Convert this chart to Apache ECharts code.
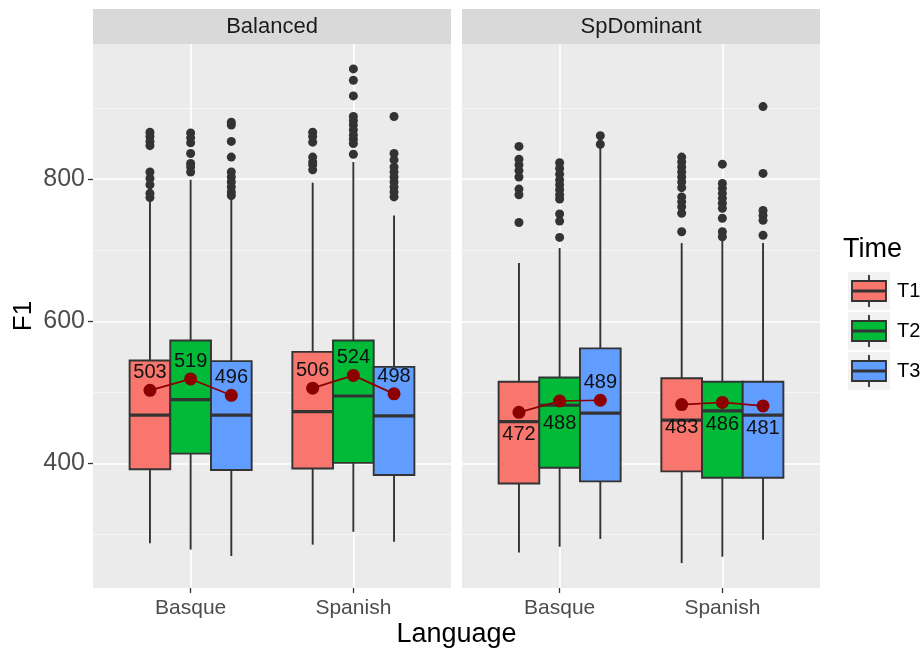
<!DOCTYPE html>
<html>
<head>
<meta charset="utf-8">
<title>F1 by Language, Time and Group</title>
<script src="https://cdn.jsdelivr.net/npm/echarts@6/dist/echarts.min.js"></script>
<style>
  html, body { margin: 0; padding: 0; background: #fff; }
  #chart { width: 924px; height: 653px; }
</style>
</head>
<body>
<div id="chart"></div>
<script>
// ---- data ----------------------------------------------------------
const panels = ['Balanced', 'SpDominant'];
const languages = ['Basque', 'Spanish'];
const times = ['T1', 'T2', 'T3'];
const yTicks = [400, 600, 800];
const yMinorTicks = [300, 500, 700, 900];

// five-number summaries per language: [lower whisker, Q1, median, Q3, upper whisker]
const balancedT1 = [[288, 392, 468, 545, 768], [286, 393, 473, 557, 795]];
const balancedT2 = [[279, 414, 490, 573, 799], [304, 401, 495, 573, 824]];
const balancedT3 = [[270, 391, 468, 544, 773], [290, 384, 467, 536, 749]];
const spDominantT1 = [[275, 372, 459, 515, 682], [260, 389, 461, 520, 710]];
const spDominantT2 = [[283, 394, 482, 521, 703], [269, 380, 474, 515, 714]];
const spDominantT3 = [[294, 375, 471, 562, 845], [293, 380, 468, 515, 710]];

// outliers per language
const balancedOutT1 = [[866, 860, 853, 847, 810, 801, 792, 780, 774], [866, 860, 852, 831, 824, 820, 813]];
const balancedOutT2 = [[865, 858, 851, 836, 822, 817, 810], [955, 939, 917, 888, 882, 876, 869, 862, 856, 850, 835]];
const balancedOutT3 = [[880, 876, 853, 831, 810, 803, 796, 789, 782, 777], [888, 836, 827, 817, 810, 803, 796, 789, 782, 775]];
const spDominantOutT1 = [[846, 828, 820, 812, 803, 786, 778, 739], [831, 824, 817, 810, 803, 796, 788, 775, 768, 761, 752, 726]];
const spDominantOutT2 = [[823, 815, 807, 799, 792, 785, 778, 772, 751, 741, 718], [821, 794, 787, 780, 773, 766, 759, 745, 726, 719]];
const spDominantOutT3 = [[861, 849], [902, 808, 756, 749, 742, 721]];

// means per time, by language
const balancedMeans = [[503, 506], [519, 524], [496, 498]];
const spDominantMeans = [[472, 483], [488, 486], [489, 481]];

// ---- styling -------------------------------------------------------
const FONT = '"Liberation Sans", Arial, Helvetica, sans-serif';
const timeColors = ['#F8766D', '#00BA38', '#619CFF'];
const inkColor = '#333333';
const meanColor = '#8B0000';
const dodge = 0.25;       // horizontal offset between time boxes
const boxSpan = 0.25;     // box width in category units
// where each mean label sits: [panel][language][time]
const meanLabelSide = [
  [['top', 'top', 'top'], ['top', 'top', 'top']],
  [['bottom', 'bottom', 'top'], ['bottom', 'bottom', 'bottom']]
];

const panelStats = [[balancedT1, balancedT2, balancedT3], [spDominantT1, spDominantT2, spDominantT3]];
const panelOutliers = [[balancedOutT1, balancedOutT2, balancedOutT3], [spDominantOutT1, spDominantOutT2, spDominantOutT3]];
const panelMeans = [balancedMeans, spDominantMeans];

const xPos = (li, ti) => li + 1 + (ti - 1) * dodge;

const gridTop = 44, gridHeight = 544, gridWidth = 358;
const gridLefts = [93, 462];
const yMin = 225, yMax = 990;

function renderBox(params, api) {
  const x = api.value(0);
  const lo = api.coord([x, api.value(1)]);
  const q1 = api.coord([x, api.value(2)]);
  const md = api.coord([x, api.value(3)]);
  const q3 = api.coord([x, api.value(4)]);
  const hi = api.coord([x, api.value(5)]);
  const w = api.size([boxSpan, 0])[0];
  const cx = lo[0];
  const fill = api.visual('color');
  const ls = { stroke: inkColor, lineWidth: 1.9 };
  return {
    type: 'group',
    children: [
      { type: 'line', shape: { x1: cx, y1: hi[1], x2: cx, y2: q3[1] }, style: ls },
      { type: 'line', shape: { x1: cx, y1: q1[1], x2: cx, y2: lo[1] }, style: ls },
      { type: 'rect', shape: { x: cx - w / 2, y: q3[1], width: w, height: q1[1] - q3[1] },
        style: { fill: fill, stroke: inkColor, lineWidth: 1.9 } },
      { type: 'line', shape: { x1: cx - w / 2, y1: md[1], x2: cx + w / 2, y2: md[1] },
        style: { stroke: inkColor, lineWidth: 3.2 } }
    ]
  };
}

const grids = [], xAxes = [], yAxes = [], series = [];

panels.forEach((panel, pi) => {
  grids.push({
    left: gridLefts[pi], top: gridTop, width: gridWidth, height: gridHeight,
    show: true, backgroundColor: '#EBEBEB', borderWidth: 0
  });
  xAxes.push({
    type: 'value', gridIndex: pi, min: 0.4, max: 2.6,
    axisLine: { show: false },
    axisTick: { show: true, customValues: [1, 2], length: 5, lineStyle: { color: inkColor, width: 1.3 } },
    axisLabel: {
      customValues: [1, 2], formatter: v => languages[Math.round(v) - 1],
      fontSize: 21, color: '#4D4D4D', fontFamily: FONT, margin: 10
    },
    splitLine: { show: true, lineStyle: { color: '#FFFFFF', width: 1.6 } }
  });
  // major grid + labels
  yAxes.push({
    type: 'value', gridIndex: pi, min: yMin, max: yMax,
    name: pi === 0 ? 'F1' : '', nameLocation: 'middle', nameGap: 56, nameRotate: 90,
    nameTextStyle: { fontSize: 26, color: '#000', fontFamily: FONT },
    axisLine: { show: false },
    axisTick: { show: pi === 0, customValues: yTicks, length: 5, lineStyle: { color: inkColor, width: 1.3 } },
    axisLabel: { show: pi === 0, customValues: yTicks, fontSize: 25, color: '#4D4D4D', fontFamily: FONT, margin: 8 },
    splitLine: { show: true, lineStyle: { color: '#FFFFFF', width: 1.6 } }
  });
  // minor grid
  yAxes.push({
    type: 'value', gridIndex: pi, min: yMin, max: yMax,
    axisLine: { show: false },
    axisTick: { show: false, customValues: yMinorTicks },
    axisLabel: { show: false, customValues: yMinorTicks },
    splitLine: { show: true, lineStyle: { color: '#F7F7F7', width: 0.9 } }
  });

  const yIdx = pi * 2;

  times.forEach((t, ti) => {
    series.push({
      type: 'custom', name: t, xAxisIndex: pi, yAxisIndex: yIdx,
      renderItem: renderBox,
      itemStyle: { color: timeColors[ti] },
      encode: { x: 0, y: [1, 2, 3, 4, 5] },
      data: languages.map((l, li) => [xPos(li, ti)].concat(panelStats[pi][ti][li])),
      z: 3, silent: true
    });
    const pts = [];
    languages.forEach((l, li) => {
      panelOutliers[pi][ti][li].forEach(v => pts.push([xPos(li, ti), v]));
    });
    series.push({
      type: 'scatter', xAxisIndex: pi, yAxisIndex: yIdx,
      symbol: 'circle', symbolSize: 9,
      itemStyle: { color: inkColor, opacity: 1 },
      data: pts, z: 4, silent: true
    });
  });

  languages.forEach((l, li) => {
    series.push({
      type: 'line', xAxisIndex: pi, yAxisIndex: yIdx,
      symbol: 'circle', symbolSize: 13,
      itemStyle: { color: meanColor },
      lineStyle: { color: meanColor, width: 1.7 },
      data: times.map((t, ti) => {
        const side = meanLabelSide[pi][li][ti];
        return {
          value: [xPos(li, ti), panelMeans[pi][ti][li]],
          label: { position: side, distance: side === 'top' ? 1 : 6 }
        };
      }),
      label: {
        show: true, fontSize: 20, color: '#111', fontFamily: FONT,
        formatter: p => String(p.value[1])
      },
      z: 6, silent: true, animation: false
    });
  });
});

// facet strips, x-axis title and legend
const graphics = [];
panels.forEach((panel, pi) => {
  graphics.push({
    type: 'rect', left: gridLefts[pi], top: 9,
    shape: { width: gridWidth, height: 35 },
    style: { fill: '#D9D9D9' }, silent: true
  });
  graphics.push({
    type: 'text', x: gridLefts[pi] + gridWidth / 2, y: 27,
    style: { text: panel, fontSize: 22, fill: '#1A1A1A', fontFamily: FONT,
             align: 'center', verticalAlign: 'middle' }, silent: true
  });
});
graphics.push({
  type: 'text', x: (gridLefts[0] + gridLefts[1] + gridWidth) / 2, y: 635,
  style: { text: 'Language', fontSize: 27, fill: '#000', fontFamily: FONT,
           align: 'center', verticalAlign: 'middle' }, silent: true
});
graphics.push({
  type: 'text', x: 843, y: 250,
  style: { text: 'Time', fontSize: 27, fill: '#000', fontFamily: FONT,
           align: 'left', verticalAlign: 'middle' }, silent: true
});
times.forEach((t, ti) => {
  const top = 272 + ti * 40;
  const cx = 869;
  graphics.push({ type: 'rect', shape: { x: 848, y: top, width: 42, height: 38 }, style: { fill: '#F2F2F2' }, silent: true });
  graphics.push({ type: 'line', shape: { x1: cx, y1: top + 3, x2: cx, y2: top + 35 }, style: { stroke: inkColor, lineWidth: 1.9 }, silent: true });
  graphics.push({ type: 'rect', shape: { x: 852, y: top + 9, width: 34, height: 20 }, style: { fill: timeColors[ti], stroke: inkColor, lineWidth: 1.9 }, silent: true });
  graphics.push({ type: 'line', shape: { x1: 852, y1: top + 19, x2: 886, y2: top + 19 }, style: { stroke: inkColor, lineWidth: 3.2 }, silent: true });
  graphics.push({
    type: 'text', x: 897, y: top + 19,
    style: { text: t, fontSize: 20, fill: '#000', fontFamily: FONT, align: 'left', verticalAlign: 'middle' }, silent: true
  });
});

const chart = echarts.init(document.getElementById('chart'), null, { renderer: 'canvas' });
chart.setOption({
  backgroundColor: '#FFFFFF',
  animation: false,
  grid: grids,
  xAxis: xAxes,
  yAxis: yAxes,
  series: series,
  graphic: graphics
});
</script>
</body>
</html>
